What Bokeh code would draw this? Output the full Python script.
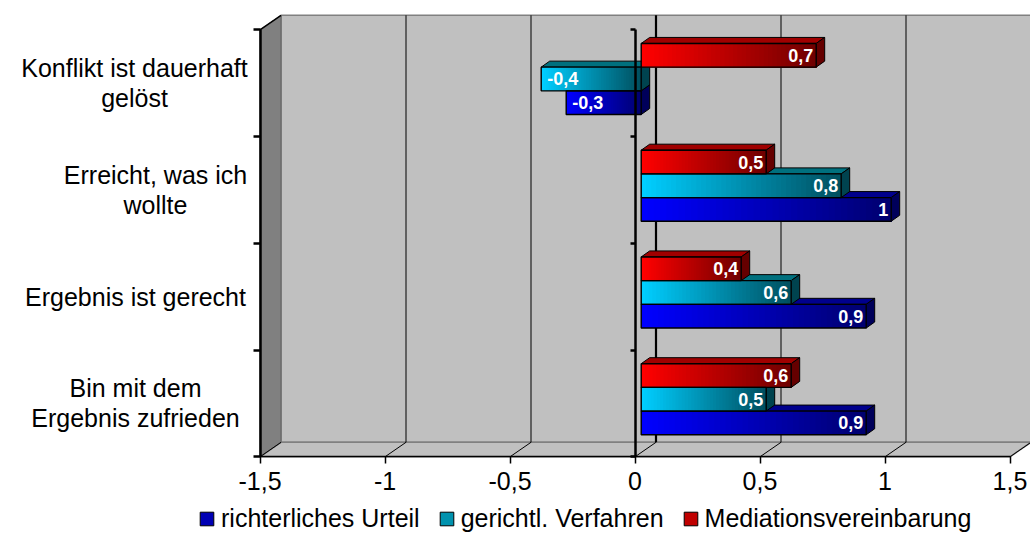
from bokeh.plotting import figure
from bokeh.models import Range1d, LinearAxis, FixedTicker, Legend, LegendItem
from bokeh.core.properties import value
from bokeh.embed import file_html
from bokeh.resources import INLINE

# ---------------- data ----------------
CATEGORIES = ["Konflikt ist dauerhaft\ngelöst",
              "Erreicht, was ich\nwollte",
              "Ergebnis ist gerecht",
              "Bin mit dem\nErgebnis zufrieden"]
SERIES = ["richterliches Urteil", "gerichtl. Verfahren", "Mediationsvereinbarung"]
URTEIL = [-0.3, 1.0, 0.9, 0.9]
VERFAHREN = [-0.4, 0.8, 0.6, 0.5]
MEDIATION = [0.7, 0.5, 0.4, 0.6]
X_TICKS = [-1.5, -1, -0.5, 0, 0.5, 1, 1.5]
X_TICK_LABELS = ["-1,5", "-1", "-0,5", "0", "0,5", "1", "1,5"]

VALUES = [URTEIL, VERFAHREN, MEDIATION]

# ---------------- styles / layout ----------------
LIGHT = [(0, 0, 255), (0, 206, 255), (255, 0, 0)]
DARK = [(0, 0, 112), (0, 80, 96), (112, 0, 0)]
TOP_COL = ["#00008c", "#00707e", "#a00000"]
SIDE_COL = ["#00005a", "#00434f", "#650000"]
LEG_COL = ["#0000b4", "#0092ae", "#c00000"]
FONT = "Liberation Sans"

W, H = 1030, 533
PXX = 250.0        # px per value unit
PXY = 106.75       # px per category band
X0_PX = 634.5      # canvas px of value 0 (front plane)
Y0_PX = 456.3      # canvas px of the floor front edge

x_start = -X0_PX / PXX
x_end = (W - X0_PX) / PXX
y_end = Y0_PX / PXY
y_start = y_end - H / PXY

DX, DY = 21 / PXX, 14.5 / PXY        # depth of the 3D box
BX0, BY0 = 6.2 / PXX, 4.2 / PXY      # bar front plane offset
BDX, BDY = 8.5 / PXX, 6.0 / PXY      # bar depth
BH = 23.7 / PXY                      # bar thickness
NSLICE = 40

n = len(CATEGORIES)
XMIN, XMAX = X_TICKS[0], X_TICKS[-1]


def mix(c1, c2, t):
    return "#%02x%02x%02x" % tuple(int(round(a + (b - a) * t)) for a, b in zip(c1, c2))


def key(t):
    return int(t) if float(t).is_integer() else t


p = figure(width=W, height=H, x_range=Range1d(x_start, x_end), y_range=Range1d(y_start, y_end),
           x_axis_location=None, y_axis_location=None, toolbar_location=None,
           output_backend="svg", min_border=0, outline_line_color=None,
           background_fill_color="white", border_fill_color="white")
p.grid.visible = False

# ---------------- 3D box ----------------
p.quad(left=[XMIN + DX], right=[XMAX + DX], bottom=[DY], top=[n + DY],
       fill_color="#c0c0c0", line_color="#808080", line_width=1.5)
p.patch([XMIN, XMAX, XMAX + DX, XMIN + DX], [0, 0, DY, DY],
        fill_color="#c0c0c0", line_color="#808080", line_width=1.5)
p.patch([XMIN, XMIN + DX, XMIN + DX, XMIN], [0, DY, n + DY, n],
        fill_color="#808080", line_color="#606060", line_width=1)
p.segment(x0=[XMIN], y0=[n], x1=[XMIN + DX], y1=[n + DY], line_color="black", line_width=1.5)

inner = [t for t in X_TICKS[1:-1]]
p.segment(x0=[t + DX for t in inner], y0=[DY] * len(inner),
          x1=[t + DX for t in inner], y1=[n + DY] * len(inner),
          line_color="black", line_width=[2.2 if t == 0 else 1 for t in inner])
p.segment(x0=X_TICKS, y0=[0] * len(X_TICKS), x1=[t + DX for t in X_TICKS], y1=[DY] * len(X_TICKS),
          line_color="black", line_width=1)

# ---------------- bars ----------------
top_xs, top_ys, top_c = [], [], []
side_xs, side_ys, side_c = [], [], []
sl_l, sl_r, sl_b, sl_t, sl_c = [], [], [], [], []
fr_l, fr_r, fr_b, fr_t = [], [], [], []
lab_pos = {"x": [], "y": [], "t": []}
lab_neg = {"x": [], "y": [], "t": []}

for s, vals in enumerate(VALUES):
    for i, v in enumerate(vals):
        k = n - 1 - i
        c = k + 0.5 + BY0
        yb = c + (s - 1.5) * BH
        yt = yb + BH
        xa = BX0 + min(0.0, v)
        xb = BX0 + max(0.0, v)
        top_xs.append([xa, xb, xb + BDX, xa + BDX])
        top_ys.append([yt, yt, yt + BDY, yt + BDY])
        top_c.append(TOP_COL[s])
        side_xs.append([xb, xb + BDX, xb + BDX, xb])
        side_ys.append([yb, yb + BDY, yt + BDY, yt])
        side_c.append(SIDE_COL[s])
        for j in range(NSLICE):
            sl_l.append(xa + (xb - xa) * j / NSLICE)
            sl_r.append(xb)
            sl_b.append(yb)
            sl_t.append(yt)
            sl_c.append(mix(LIGHT[s], DARK[s], j / (NSLICE - 1)))
        fr_l.append(xa); fr_r.append(xb); fr_b.append(yb); fr_t.append(yt)
        txt = ("%g" % v).replace(".", ",")
        if v >= 0:
            lab_pos["x"].append(xb - 3 / PXX); lab_pos["y"].append((yb + yt) / 2); lab_pos["t"].append(txt)
        else:
            lab_neg["x"].append(xa + 6 / PXX); lab_neg["y"].append((yb + yt) / 2); lab_neg["t"].append(txt)

p.patches(top_xs, top_ys, fill_color=top_c, line_color="black", line_width=1)
p.patches(side_xs, side_ys, fill_color=side_c, line_color="black", line_width=1)
p.quad(left=sl_l, right=sl_r, bottom=sl_b, top=sl_t, fill_color=sl_c, line_color=None)
p.quad(left=fr_l, right=fr_r, bottom=fr_b, top=fr_t, fill_color=None, line_color="black", line_width=1.4)

p.text(x=lab_pos["x"], y=lab_pos["y"], text=lab_pos["t"], text_align="right", text_baseline="middle",
       text_font=value(FONT), text_font_style="bold", text_font_size="18px", text_color="white")
p.text(x=lab_neg["x"], y=lab_neg["y"], text=lab_neg["t"], text_align="left", text_baseline="middle",
       text_font=value(FONT), text_font_style="bold", text_font_size="18px", text_color="white")

# ---------------- axes ----------------
xaxis = LinearAxis(fixed_location=0, bounds=(XMIN, XMAX), ticker=FixedTicker(ticks=X_TICKS),
                   major_label_overrides={key(t): lab for t, lab in zip(X_TICKS, X_TICK_LABELS)},
                   major_tick_in=0, major_tick_out=7, minor_tick_in=0, minor_tick_out=0,
                   major_label_standoff=8, major_label_text_font=FONT,
                   major_label_text_font_size="25px", major_label_text_color="black",
                   axis_line_width=1.5, axis_line_color="black",
                   major_tick_line_width=1.5, major_tick_line_color="black")
p.add_layout(xaxis, "below")

bounds_ticks = list(range(n + 1))
for loc, tick_len in ((XMIN, 7), (0, 5)):
    ax = LinearAxis(fixed_location=loc, bounds=(0, n), ticker=FixedTicker(ticks=bounds_ticks),
                    major_label_overrides={t: "" for t in bounds_ticks},
                    major_tick_in=0, major_tick_out=tick_len, minor_tick_in=0, minor_tick_out=0,
                    axis_line_width=2.5, axis_line_color="black",
                    major_tick_line_width=2.5, major_tick_line_color="black")
    p.add_layout(ax, "left")

# ---------------- category labels ----------------
LABEL_CENTER_PX = [134, 155, 135, 135]   # canvas px centre of each label block
LINE_PX = 30
cl_x, cl_y, cl_t = [], [], []
for i, cat in enumerate(CATEGORIES):
    k = n - 1 - i
    lines = cat.split("\n")
    m = len(lines)
    for j, line in enumerate(lines):
        cl_x.append((LABEL_CENTER_PX[i] - X0_PX) / PXX)
        cl_y.append(k + 0.5 + ((m - 1) / 2 - j) * LINE_PX / PXY)
        cl_t.append(line)
p.text(x=cl_x, y=cl_y, text=cl_t, text_align="center", text_baseline="middle",
       text_font=value(FONT), text_font_size="25px", text_color="black")

# ---------------- legend ----------------
nan = float("nan")
items = []
for s, name in enumerate(SERIES):
    r = p.quad(left=[nan], right=[nan], bottom=[nan], top=[nan],
               fill_color=LEG_COL[s], line_color="black", line_width=1)
    items.append(LegendItem(label=name, renderers=[r]))
legend = Legend(items=items, orientation="horizontal", location=(198, 0),
                glyph_width=17, glyph_height=17, label_standoff=6, spacing=18,
                padding=0, margin=0, border_line_color=None, background_fill_alpha=0,
                label_text_font=FONT, label_text_font_size="25px", label_text_color="black")
p.add_layout(legend)

open("out.html", "w").write(file_html(p, INLINE))
